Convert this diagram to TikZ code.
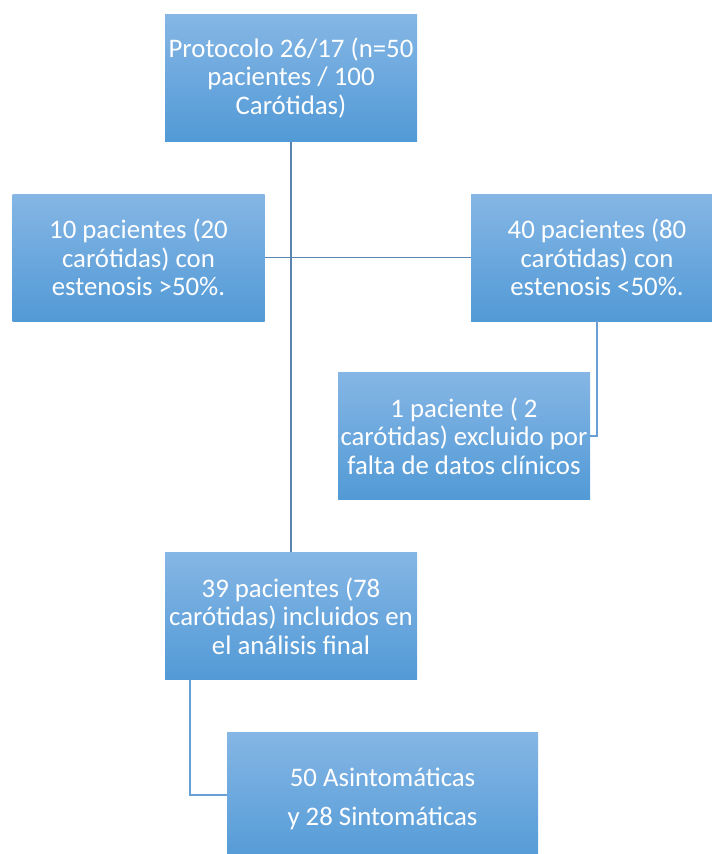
\documentclass[tikz,border=0pt]{standalone}
\usepackage{fontspec}
\setmainfont{Carlito}
\definecolor{cajaarriba}{RGB}{133,182,229}
\definecolor{cajaabajo}{RGB}{82,154,214}
\definecolor{lineaosc}{RGB}{88,132,176}
\definecolor{linea}{RGB}{104,160,214}
\begin{document}
\begin{tikzpicture}[
    x=1pt, y=-1pt,
    box/.style={rectangle, top color=cajaarriba, bottom color=cajaabajo, minimum width=252pt, minimum height=127pt, align=center, text=white, font=\fontsize{26.8}{28.7}\selectfont, inner sep=0pt},
    link/.style={draw=lineaosc, line width=1.4pt},
    elbow/.style={draw=linea, line width=1.4pt}
]
    \useasboundingbox (0,0) rectangle (712,854);
    \clip (0,0) rectangle (712,854);

    % Cajas
    \node[box] (protocolo) at (291,78) {Protocolo 26/17 (n=50\\pacientes / 100\\Carótidas)};
    \node[box] (izq) at (138.5,257.5) {10 pacientes (20\\carótidas) con\\estenosis >50\%.};
    \node[box] (der) at (597,257.5) {40 pacientes (80\\carótidas) con\\estenosis <50\%.};
    \node[box] (excluido) at (464,436) {1 paciente ( 2\\carótidas) excluido por\\falta de datos clínicos};
    \node[box] (final) at (291,616) {39 pacientes (78\\carótidas) incluidos en\\el análisis final};
    \node[box, minimum width=311pt, minimum height=134pt, font=\fontsize{26.8}{39}\selectfont] (resultado) at (382.5,799) {50 Asintomáticas\\y 28 Sintomáticas};

    % Conectores
    \draw[link] (protocolo) -- (final);
    \draw[link] (izq) -- (der);
    \draw[elbow] (der.south) |- (excluido.east);
    \draw[elbow] ([xshift=-101pt]final.south) |- ([yshift=4pt]resultado.west);
\end{tikzpicture}
\end{document}
